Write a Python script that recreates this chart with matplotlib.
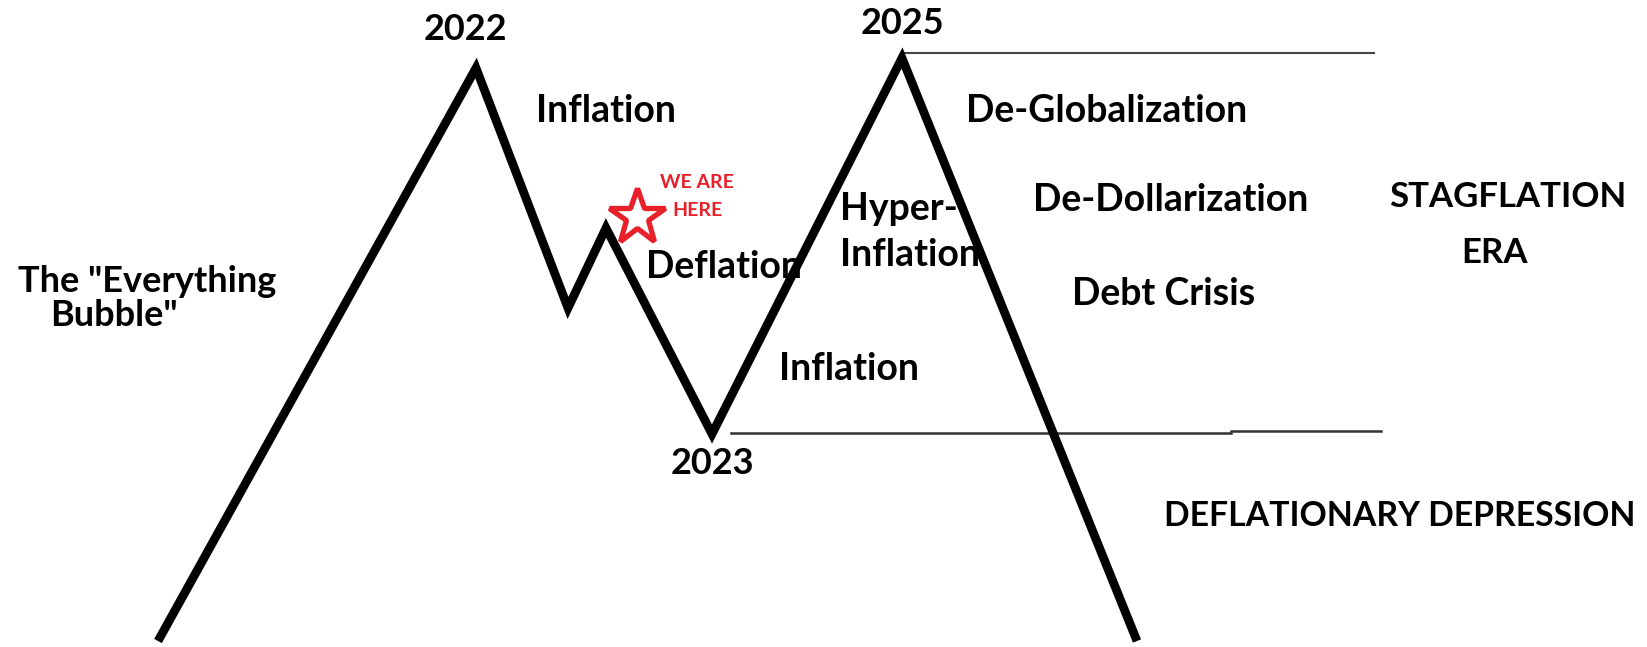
import matplotlib
matplotlib.use("Agg")
import matplotlib.pyplot as plt

# ---- data ----
path_x = [158, 476, 568, 606, 712, 902, 1137]
path_y = [641, 68, 308, 228, 434, 58, 641]

top_line_x = [905, 1374]
top_line_y = [53, 53]
bottom_line1_x = [731, 1231]
bottom_line1_y = [433, 433]
bottom_line2_x = [1231, 1381]
bottom_line2_y = [431, 431]

star_xy = (637, 217)

labels = [
    # text, x, y, ha, size, color
    ("2022", 465, 30, "center", 26, "black"),
    ("Inflation", 606, 111, "center", 27, "black"),
    ("Deflation", 646, 267, "left", 27, "black"),
    ('The "Everything', 18, 281, "left", 26, "black"),
    ('Bubble"', 50, 316, "left", 26, "black"),
    ("2023", 712, 463, "center", 26, "black"),
    ("Inflation", 849, 369, "center", 27, "black"),
    ("2025", 902, 24, "center", 26, "black"),
    ("Hyper-", 840, 209, "left", 27, "black"),
    ("Inflation", 840, 255, "left", 27, "black"),
    ("De-Globalization", 1107, 111, "center", 27, "black"),
    ("De-Dollarization", 1171, 200, "center", 27, "black"),
    ("Debt Crisis", 1164, 294, "center", 27, "black"),
    ("STAGFLATION", 1508, 197, "center", 25, "black"),
    ("ERA", 1495, 253, "center", 25, "black"),
    ("DEFLATIONARY DEPRESSION", 1164, 516, "left", 24.3, "black"),
    ("WE ARE", 697, 182, "center", 14, "#e8202a"),
    ("HERE", 697, 211, "center", 14, "#e8202a"),
]

W, H = 1647, 647
fig = plt.figure(figsize=(W / 100, H / 100), dpi=100)
ax = fig.add_axes([0, 0, 1, 1])
ax.set_xlim(0, W)
ax.set_ylim(H, 0)
ax.axis("off")

ax.plot(top_line_x, top_line_y, color="#444444", lw=1.5, zorder=1)
ax.plot(bottom_line1_x, bottom_line1_y, color="#333333", lw=1.8, zorder=1)
ax.plot(bottom_line2_x, bottom_line2_y, color="#333333", lw=1.8, zorder=1)

for t, x, y, ha, s, c in labels:
    ax.text(x, y, t, ha=ha, va="center", fontsize=s, color=c,
            fontweight="bold", family="Lato", zorder=2)

ax.plot(path_x, path_y, color="black", lw=6.3, solid_joinstyle="miter",
        solid_capstyle="butt", zorder=3)

ax.plot([star_xy[0]], [star_xy[1]], marker="*", markersize=42,
        markerfacecolor="white", markeredgecolor="#e8202a",
        markeredgewidth=3.8, zorder=4)

fig.savefig("out.png", dpi=100, facecolor="white")
